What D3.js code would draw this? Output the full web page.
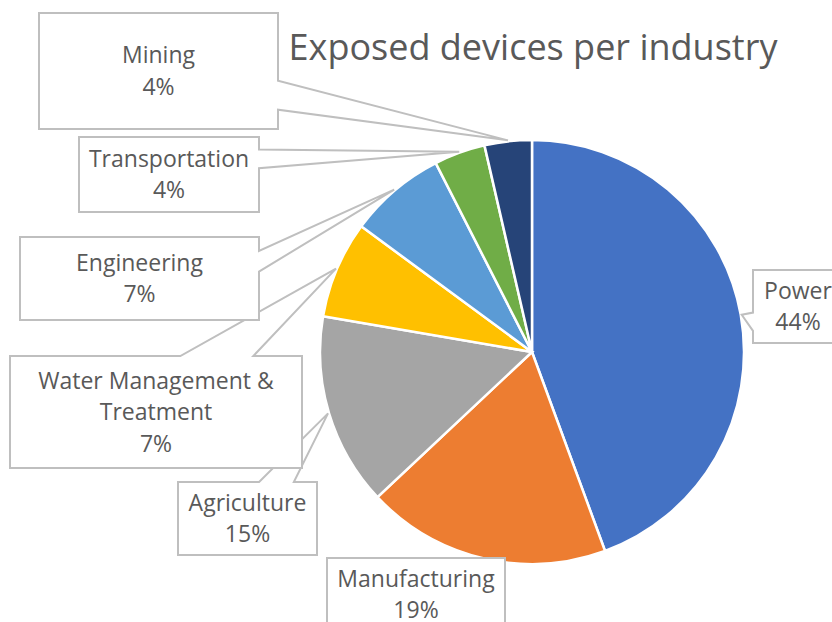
<!DOCTYPE html>
<html lang="en">
<head>
<meta charset="utf-8">
<title>Exposed devices per industry</title>
<script src="https://d3js.org/d3.v7.min.js"></script>
<style>
  body { margin: 0; background: #fff; }
  text { font-family: "Open Sans", "Noto Sans", sans-serif; fill: #595959; }
</style>
</head>
<body>
<script>
// data (share of exposed devices, %)
var categories = ["Power", "Manufacturing", "Agriculture", "Water Management & Treatment",
                  "Engineering", "Transportation", "Mining"];
var shares = [44.4, 18.6, 14.7, 7.4, 7.4, 3.9, 3.6];
var colors = ["#4472C4", "#ED7D31", "#A5A5A5", "#FFC000", "#5B9BD5", "#70AD47", "#264478"];

// callout boxes (same order as categories)
var boxes = [
  {x: 753, y: 270, w: 90,  h: 73,  side: "left"},
  {x: 327, y: 558, w: 178, h: 73,  side: null},
  {x: 178, y: 482, w: 139, h: 73,  side: "top"},
  {x: 10,  y: 356, w: 292, h: 112, side: "top"},
  {x: 20,  y: 237, w: 239, h: 83,  side: "right"},
  {x: 79,  y: 137, w: 180, h: 75,  side: "right"},
  {x: 39,  y: 13,  w: 239, h: 116, side: "right"}
];

var w = 832, h = 622;
var cx = 532, cy = 352, r = 212;
var labelSize = "23px";

var svg = d3.select("body").append("svg")
  .attr("width", w).attr("height", h);

var total = d3.sum(shares);
var pie = d3.pie().sort(null).value(function(d) { return d; });
var arcs = pie(shares);
var arc = d3.arc().innerRadius(0).outerRadius(r);
var tipArc = d3.arc().innerRadius(r + 1).outerRadius(r + 1);

var g = svg.append("g").attr("transform", "translate(" + cx + "," + cy + ")");
g.selectAll("path")
  .data(arcs)
  .enter().append("path")
  .attr("d", arc)
  .attr("fill", function(d, i) { return colors[i]; })
  .attr("stroke", "#fff")
  .attr("stroke-width", 2.5);

// title
svg.append("text")
  .attr("x", 533).attr("y", 60)
  .attr("text-anchor", "middle")
  .style("font-size", "36px")
  .text("Exposed devices per industry");

// wedge-rect callout like the office shape
function callout(b, tip) {
  var x0 = b.x, y0 = b.y, x1 = b.x + b.w, y1 = b.y + b.h;
  var mx = b.x + b.w / 2, my = b.y + b.h / 2;
  var fx = tip[0] > mx ? [7 / 12, 10 / 12] : [2 / 12, 5 / 12];
  var fy = tip[1] > my ? [7 / 12, 10 / 12] : [2 / 12, 5 / 12];
  var p = d3.path();
  p.moveTo(x0, y0);
  if (b.side == "top") {
    p.lineTo(x0 + b.w * fx[0], y0);
    p.lineTo(tip[0], tip[1]);
    p.lineTo(x0 + b.w * fx[1], y0);
  }
  p.lineTo(x1, y0);
  if (b.side == "right") {
    p.lineTo(x1, y0 + b.h * fy[0]);
    p.lineTo(tip[0], tip[1]);
    p.lineTo(x1, y0 + b.h * fy[1]);
  }
  p.lineTo(x1, y1);
  if (b.side == "bottom") {
    p.lineTo(x0 + b.w * fx[1], y1);
    p.lineTo(tip[0], tip[1]);
    p.lineTo(x0 + b.w * fx[0], y1);
  }
  p.lineTo(x0, y1);
  if (b.side == "left") {
    p.lineTo(x0, y0 + b.h * fy[1]);
    p.lineTo(tip[0], tip[1]);
    p.lineTo(x0, y0 + b.h * fy[0]);
  }
  p.closePath();
  return p.toString();
}

var labels = svg.append("g");
arcs.forEach(function(a, i) {
  var b = boxes[i];
  var c = tipArc.centroid(a);
  var tip = [c[0] + cx, c[1] + cy];
  var lab = labels.append("g");
  lab.append("path")
    .attr("d", callout(b, tip))
    .attr("fill", "#fff")
    .attr("stroke", "#BFBFBF")
    .attr("stroke-width", 2)
    .attr("stroke-linejoin", "miter");

  var t = lab.append("text")
    .attr("text-anchor", "middle")
    .style("font-size", labelSize);

  // word wrap into the box
  var words = categories[i].split(" ");
  var lines = [], line = "";
  var probe = svg.append("text").style("font-size", labelSize);
  words.forEach(function(wd) {
    var test = line ? line + " " + wd : wd;
    probe.text(test);
    if (line && probe.node().getComputedTextLength() > b.w - 24) {
      lines.push(line);
      line = wd;
    } else {
      line = test;
    }
  });
  lines.push(line);
  probe.remove();
  lines.push(Math.round(shares[i] / total * 100) + "%");

  var lh = 31.5;
  var top = b.y + b.h / 2 - lh * (lines.length - 1) / 2;
  lines.forEach(function(s, k) {
    t.append("tspan")
      .attr("x", b.x + b.w / 2)
      .attr("y", top + k * lh)
      .attr("dy", "0.35em")
      .text(s);
  });
});
</script>
</body>
</html>
